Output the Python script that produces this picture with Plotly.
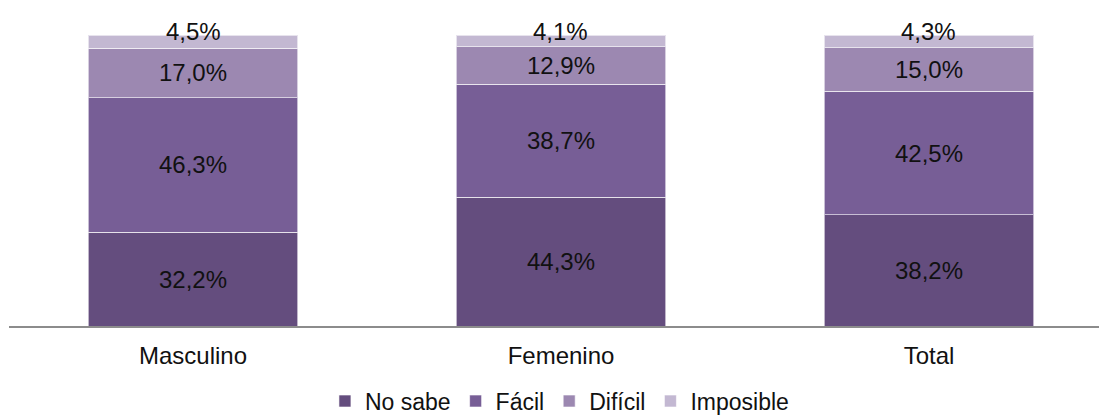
import plotly.graph_objects as go

categories = ["Masculino", "Femenino", "Total"]
series_names = ["No sabe", "Fácil", "Difícil", "Imposible"]
no_sabe = [32.2, 44.3, 38.2]
facil = [46.3, 38.7, 42.5]
dificil = [17.0, 12.9, 15.0]
imposible = [4.5, 4.1, 4.3]
colors = ["#644D7E", "#775E96", "#9C88B1", "#C3B8D2"]

values = [no_sabe, facil, dificil, imposible]
FONT = "Liberation Sans, Arial, sans-serif"
FS = 24
TXT = "#111111"

def fmt(v):
    return f"{v:.1f}%".replace(".", ",")

fig = go.Figure()
for i, (name, vals, col) in enumerate(zip(series_names, values, colors)):
    show_text = i < 3
    fig.add_trace(go.Bar(
        x=categories, y=vals, name=name,
        marker=dict(color=col, line=dict(color="rgba(255,255,255,0.6)", width=1)),
        text=[fmt(v) for v in vals] if show_text else None,
        textposition="inside" if show_text else "none",
        insidetextanchor="middle",
        textfont=dict(color=TXT, size=FS, family=FONT),
        width=0.57,
        hoverinfo="skip",
    ))

# labels for the thin top segment
for c, v, a, b, d in zip(categories, imposible, no_sabe, facil, dificil):
    fig.add_annotation(x=c, y=a + b + d + v, text=fmt(v), showarrow=False,
                       yanchor="middle", yshift=4,
                       font=dict(color=TXT, size=FS, family=FONT))

fig.update_layout(
    barmode="stack",
    width=1099, height=417,
    margin=dict(l=9, r=0, t=35, b=91, autoexpand=False),
    paper_bgcolor="white", plot_bgcolor="white",
    uniformtext=dict(minsize=FS, mode="show"),
    font=dict(family=FONT, size=FS, color=TXT),
    showlegend=True,
    legend=dict(orientation="h", x=0.505, xanchor="center", y=-0.258, yanchor="middle",
                font=dict(size=23, family=FONT, color=TXT),
                itemwidth=30, traceorder="normal"),
    xaxis=dict(range=[-0.5, 2.462], showline=True, linecolor="#8c8c8c", linewidth=2,
               ticks="outside", ticklen=7, tickcolor="rgba(0,0,0,0)",
               tickfont=dict(size=FS, family=FONT, color=TXT),
               showgrid=False, fixedrange=True, automargin=False),
    yaxis=dict(range=[0, 100], visible=False, showgrid=False, fixedrange=True),
)

fig.write_html(
    "out.html",
    config={"displayModeBar": False},
    post_script="document.body.style.margin='0';document.body.style.overflow='hidden';",
)
